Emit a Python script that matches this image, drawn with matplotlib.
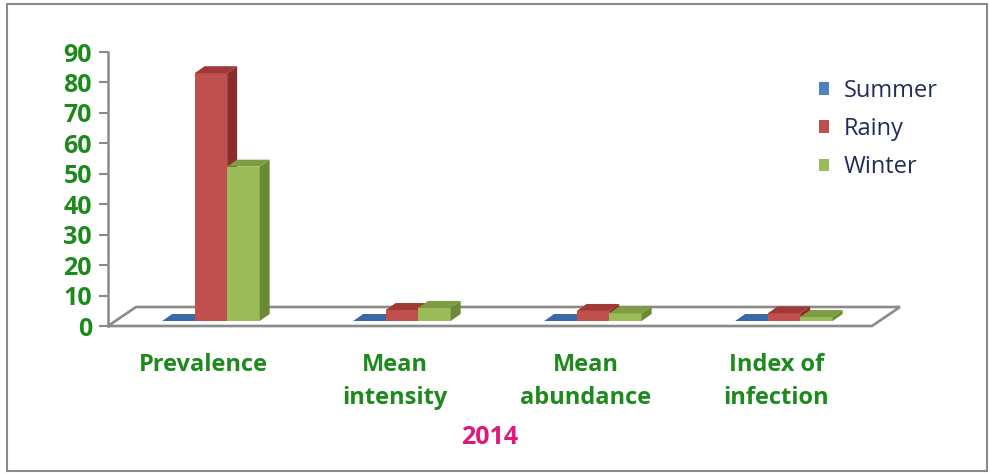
import matplotlib
matplotlib.use("Agg")
import matplotlib.pyplot as plt
from matplotlib.patches import Polygon, Rectangle, Patch
import numpy as np

# ---- data -------------------------------------------------------------
categories = ["Prevalence", "Mean\nintensity", "Mean\nabundance", "Index of\ninfection"]
seasons = ["Summer", "Rainy", "Winter"]
summer = [0.0, 0.0, 0.0, 0.0]
rainy = [81.4, 3.6, 3.3, 2.5]
winter = [50.7, 4.3, 2.5, 1.3]
y_ticks = list(range(0, 91, 10))
year_label = "2014"

# ---- style ------------------------------------------------------------
front_col = ["#4F81BD", "#C0504D", "#9BBB59"]
side_col = ["#2F5687", "#8A2D2A", "#6A8A33"]
top_col = ["#3B68A6", "#A13A37", "#7E9D42"]
label_green = "#1E8A1E"
legend_navy = "#1F2D5C"
year_pink = "#E0187A"
frame_gray = "#8A8A8A"
plt.rcParams["font.family"] = ["Open Sans", "DejaVu Sans"]

W, H, DPI = 990, 473, 100
fig = plt.figure(figsize=(W / DPI, H / DPI), dpi=DPI)
fig.patch.set_facecolor("white")

# front plane of the pseudo-3D plot, in pixels
ax_l, ax_r, ax_b, ax_t = 108, 872, 326, 52
ax = fig.add_axes([ax_l / W, 1 - ax_b / H, (ax_r - ax_l) / W, (ax_b - ax_t) / H])
ax.set_xlim(-0.5, 3.5)
ax.set_ylim(0, 90)
ax.patch.set_alpha(0)

px_x = (ax_r - ax_l) / 4.0
px_y = (ax_b - ax_t) / 90.0


def depth(dx_px, dy_px):
    """Convert a screen offset for depth into data units."""
    return dx_px / px_x, dy_px / px_y


# floor
fdx, fdy = depth(28, 19)
x0, x1 = ax.get_xlim()
floor = Polygon([(x0, 0), (x1, 0), (x1 + fdx, fdy), (x0 + fdx, fdy)],
                closed=True, facecolor="white", edgecolor=frame_gray,
                linewidth=1.9, clip_on=False, zorder=1)
ax.add_patch(floor)

# bars with top and side faces
ox, oy = depth(7.4, 5)
ddx, ddy = depth(10, 7)
bar_w = 32.5 / px_x
xpos = np.arange(len(categories))
for j, vals in enumerate([summer, rainy, winter]):
    bars = ax.bar(xpos + (j - 1) * bar_w + ox, vals, bar_w, bottom=oy,
                  color=front_col[j], linewidth=0, zorder=2 + j, clip_on=False)
    for r in bars:
        bx, by, bw, bh = r.get_x(), r.get_y(), r.get_width(), r.get_height()
        ax.add_patch(Polygon([(bx, by + bh), (bx + bw, by + bh),
                              (bx + bw + ddx, by + bh + ddy), (bx + ddx, by + bh + ddy)],
                             closed=True, facecolor=top_col[j], linewidth=0,
                             zorder=2 + j, clip_on=False))
        ax.add_patch(Polygon([(bx + bw, by), (bx + bw + ddx, by + ddy),
                              (bx + bw + ddx, by + bh + ddy), (bx + bw, by + bh)],
                             closed=True, facecolor=side_col[j], linewidth=0,
                             zorder=2 + j, clip_on=False))

# axes decoration
for s in ["top", "right", "bottom"]:
    ax.spines[s].set_visible(False)
ax.spines["left"].set_color(frame_gray)
ax.spines["left"].set_linewidth(1.8)
ax.set_yticks(y_ticks)
ax.tick_params(axis="y", direction="out", length=6.5, width=1.5, color=frame_gray,
               labelcolor=label_green, labelsize=18, pad=5)
for t in ax.get_yticklabels():
    t.set_fontweight("bold")
ax.set_xticks(xpos)
ax.set_xticklabels(categories, fontsize=17, fontweight="bold", color=label_green,
                   linespacing=1.5)
ax.tick_params(axis="x", length=0, pad=19.5)

fig.text(490 / W, 1 - 437 / H, year_label, ha="center", va="center",
         fontsize=18, fontweight="bold", color=year_pink)

# legend
handles = [Patch(facecolor=c, edgecolor="none") for c in front_col]
leg = fig.legend(handles, seasons, loc="upper left",
                 bbox_to_anchor=(819 / W, 1 - 79 / H), frameon=False,
                 fontsize=17, handlelength=0.44, handleheight=0.44,
                 handletextpad=0.6, labelspacing=0.6, borderpad=0,
                 borderaxespad=0, labelcolor=legend_navy)

# outer frame
fig.patches.append(Rectangle((7 / W, 2 / H), 980 / W, 467 / H, transform=fig.transFigure,
                             fill=False, edgecolor=frame_gray, linewidth=1.5))

fig.savefig("out.png", dpi=DPI, facecolor="white")
